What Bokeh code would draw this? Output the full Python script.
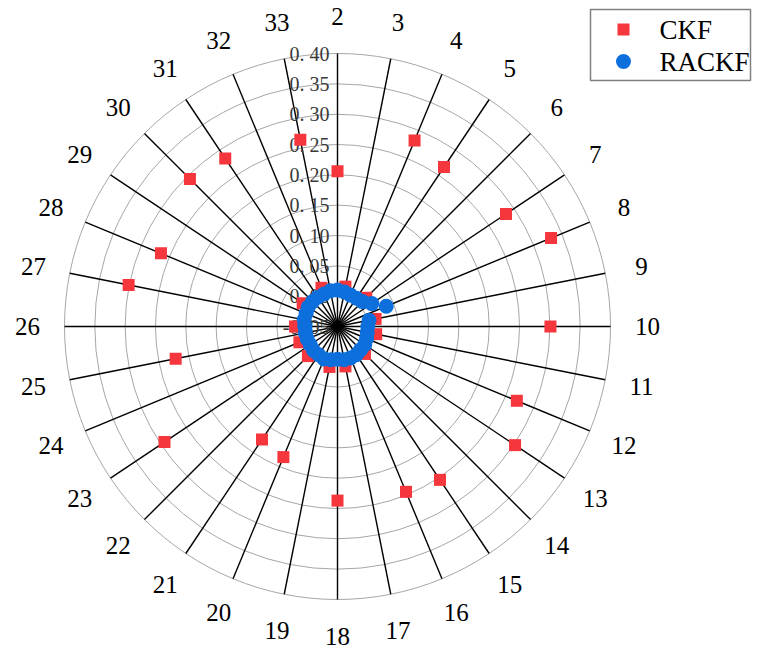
import numpy as np
from bokeh.plotting import figure
from bokeh.models import Range1d, ColumnDataSource
from bokeh.core.properties import value
from bokeh.embed import file_html
from bokeh.resources import INLINE

# ---------------- data ----------------
channels = list(range(2, 34))
ckf = [0.206, 0.017, 0.282, 0.266, 0.017, 0.284, 0.331, 0.014,
       0.301, 0.015, 0.270, 0.302, 0.014, 0.254, 0.245, 0.017,
       0.237, 0.018, 0.183, 0.174, 0.019, 0.293, 0.018, 0.222,
       0.020, 0.301, 0.265, 0.019, 0.294, 0.283, 0.019, 0.264]
rackf = [0.010, 0.008, 0.006, 0.006, 0.008, 0.018, 0.037, 0.003,
         0.000, 0.000, 0.002, 0.004, 0.004, 0.006, 0.006, 0.006,
         0.004, 0.006, 0.008, 0.006, 0.006, 0.004, 0.004, 0.004,
         0.004, 0.006, 0.006, 0.008, 0.008, 0.008, 0.008, 0.010]
r_ticks = [-0.05, 0.00, 0.05, 0.10, 0.15, 0.20, 0.25, 0.30, 0.35, 0.40]
r_tick_labels = ["-0. 05", "0. 00", "0. 05", "0. 10", "0. 15", "0. 20",
                 "0. 25", "0. 30", "0. 35", "0. 40"]
series_names = ["CKF", "RACKF"]

# ---------------- geometry ----------------
R_MIN, R_MAX = -0.05, 0.40
R_PX = 273.0            # outer radius in px (1 data unit = 1 px)
LABEL_R = 310.0

def rad(v):
    return (np.asarray(v, dtype=float) - R_MIN) / (R_MAX - R_MIN) * R_PX

n = len(channels)
ang = np.deg2rad(90.0 - np.arange(n) * 360.0 / n)

W, H = 752, 653
CX, CY = 337.0, 326.0   # centre in figure pixels from top-left

p = figure(width=W, height=H, output_backend="svg", toolbar_location=None,
           x_range=Range1d(-CX, W - CX), y_range=Range1d(CY - H, CY),
           min_border=0, outline_line_color=None)
p.axis.visible = False
p.grid.visible = False
p.background_fill_color = "white"
p.border_fill_color = "white"

# grid circles
gr = rad(r_ticks[1:])
p.circle(x=[0] * len(gr), y=[0] * len(gr), radius=gr, fill_color=None,
         line_color="#a6a6a6", line_width=1)

# spokes
p.segment(x0=[0] * n, y0=[0] * n, x1=R_PX * np.cos(ang), y1=R_PX * np.sin(ang),
          line_color="black", line_width=1.4)

# angular labels
p.text(x=LABEL_R * np.cos(ang), y=LABEL_R * np.sin(ang), text=[str(c) for c in channels],
       text_align="center", text_baseline="middle", text_font=value("Liberation Serif"),
       text_font_size="25px", text_color="black")

# radial tick labels
p.text(x=[-8] * len(r_ticks), y=rad(r_ticks), text=r_tick_labels,
       text_align="right", text_baseline="middle", text_font=value("Liberation Serif"),
       text_font_size="20px", text_color="#3a3a3a")

# data
rc = rad(ckf)
rr = rad(rackf)
src_c = ColumnDataSource(dict(x=rc * np.cos(ang), y=rc * np.sin(ang)))
src_r = ColumnDataSource(dict(x=rr * np.cos(ang), y=rr * np.sin(ang)))
RED = "#f5363c"
BLUE = "#0d6fdc"
p.scatter("x", "y", source=src_c, marker="square", size=12, fill_color=RED, line_color=None)
p.scatter("x", "y", source=src_r, marker="circle", size=15, fill_color=BLUE, line_color=None)

# legend (manual box)
def fx(px):
    return px - CX

def fy(py):
    return CY - py

p.quad(left=[fx(590)], right=[fx(750)], bottom=[fy(80)], top=[fy(9)], fill_color="white",
       line_color="#808080", line_width=1.5)
leg_y = [fy(29), fy(61)]
p.scatter(x=[fx(623)], y=[leg_y[0]], marker="square", size=12, fill_color=RED, line_color=None)
p.scatter(x=[fx(623)], y=[leg_y[1]], marker="circle", size=15, fill_color=BLUE, line_color=None)
p.text(x=[fx(659)] * 2, y=leg_y, text=series_names, text_align="left",
       text_baseline="middle", text_font=value("Liberation Serif"),
       text_font_size="27px", text_color="black")

open("out.html", "w").write(file_html(p, INLINE))
